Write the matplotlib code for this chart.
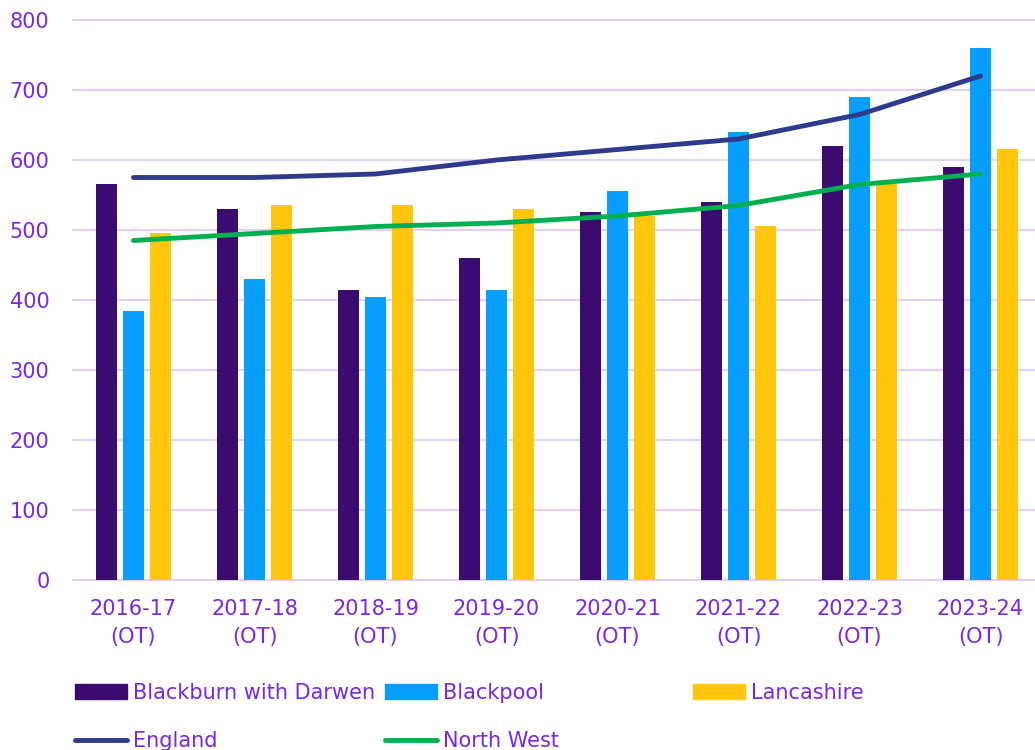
import numpy as np
import matplotlib.pyplot as plt
from matplotlib.patches import Patch
from matplotlib.lines import Line2D

# Data
years = ['2016-17\n(OT)', '2017-18\n(OT)', '2018-19\n(OT)', '2019-20\n(OT)',
         '2020-21\n(OT)', '2021-22\n(OT)', '2022-23\n(OT)', '2023-24\n(OT)']
blackburn = [565, 530, 415, 460, 525, 540, 620, 590]
blackpool = [385, 430, 405, 415, 555, 640, 690, 760]
lancashire = [495, 535, 535, 530, 520, 505, 570, 615]
england = [575, 575, 580, 600, 615, 630, 665, 720]
north_west = [485, 495, 505, 510, 520, 535, 565, 580]

c_bwd = '#3B0B70'
c_bpl = '#079FFD'
c_lan = '#FFC60B'
c_eng = '#2E3A8C'
c_nw = '#00B050'
txt = '#7A26E6'
grid = '#E3D0F7'

plt.rcParams['font.family'] = ['DejaVu Sans']
fig = plt.figure(figsize=(10.35, 7.5), dpi=100)
ax = fig.add_axes([73 / 1035, 170 / 750, 968 / 1035, 560 / 750])

x = np.arange(len(years))
w = 0.174
off = 0.223
ax.bar(x - off, blackburn, w, color=c_bwd, zorder=2)
ax.bar(x, blackpool, w, color=c_bpl, zorder=2)
ax.bar(x + off, lancashire, w, color=c_lan, zorder=2)
ax.plot(x, england, color=c_eng, lw=3.5, solid_capstyle='round', zorder=3)
ax.plot(x, north_west, color=c_nw, lw=3.5, solid_capstyle='round', zorder=3)

ax.set_xlim(-0.5, 7.5)
ax.set_ylim(0, 800)
ax.set_yticks(range(0, 801, 100))
ax.set_xticks(x)
ax.set_xticklabels(years, linespacing=1.45)
ax.grid(axis='y', color=grid, lw=1.5, zorder=0, clip_on=False)
ax.set_axisbelow(True)
for s in ax.spines.values():
    s.set_visible(False)
ax.tick_params(axis='both', length=0, labelsize=15, colors=txt)
ax.tick_params(axis='y', pad=17)
ax.tick_params(axis='x', pad=14)

# legend in three separate columns to match the reference spacing
cols = [
    ([Patch(color=c_bwd), Line2D([], [], color=c_eng, lw=3.5, solid_capstyle='round')],
     ['Blackburn with Darwen', 'England'], 75),
    ([Patch(color=c_bpl), Line2D([], [], color=c_nw, lw=3.5, solid_capstyle='round')],
     ['Blackpool', 'North West'], 385),
    ([Patch(color=c_lan)], ['Lancashire'], 693),
]
for handles, labels, px in cols:
    leg = fig.legend(handles, labels, loc='upper left',
                     bbox_to_anchor=(px / 1035, (750 - 683) / 750),
                     frameon=False, fontsize=15, borderpad=0, borderaxespad=0,
                     handlelength=2.5, handletextpad=0.3, labelspacing=1.35,
                     labelcolor=txt)

fig.savefig('out.png', dpi=100)
